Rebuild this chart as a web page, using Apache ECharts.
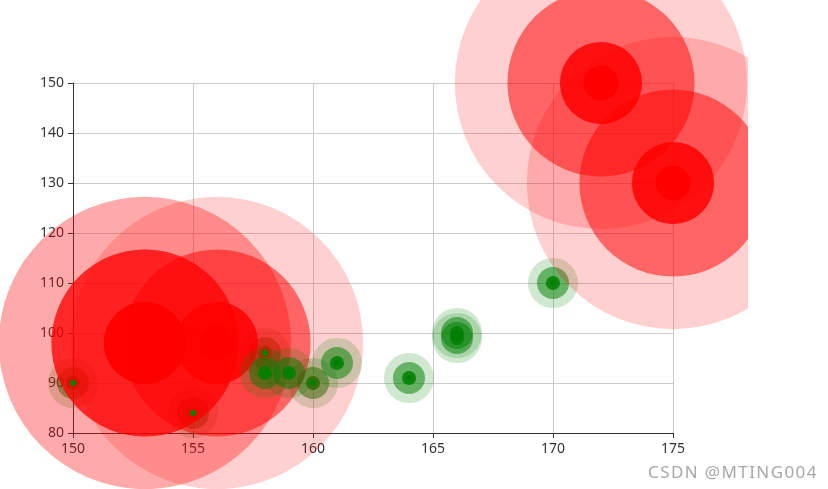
<!DOCTYPE html>
<html><head><meta charset="utf-8">
<script src="https://cdn.jsdelivr.net/npm/echarts@6/dist/echarts.min.js"></script>
<style>
html,body{margin:0;padding:0;background:#fff;width:828px;height:489px;overflow:hidden;position:relative}
#chart{position:absolute;left:0;top:0;width:748px;height:489px}
#wm{position:absolute;left:648px;top:460px;font:17px 'Noto Sans',sans-serif;color:#a8a8a8;letter-spacing:1.4px;white-space:nowrap}
</style></head><body>
<div id="chart"></div><div id="wm">CSDN @MTING004</div>
<script>
// Data (height cm, weight kg), in drawing order
const heights = [150, 155, 158, 160, 153, 153, 156, 158, 159, 161, 164, 166, 166, 170, 172, 175];
const weights = [90, 84, 96, 90, 98, 98, 98, 92, 92, 94, 91, 100, 99, 110, 150, 130];
// Axis ticks
const xMin = 150, xMax = 175, xStep = 5;
const yMin = 80, yMax = 150, yStep = 10;
const bmiLimit = 40;

// Style
const RED = '#ff0000', GREEN = '#008000';
const sizeHigh = 35, sizeLow = 6;
const rippleScale = 10;
const ripplePhases = [0.817, 0.483, 0.15];

const data = heights.map((h, i) => [h, weights[i]]);
function isHigh(i) {
  const h = heights[i], w = weights[i];
  return w * 10000 / (h * h) > bmiLimit;
}

const chart = echarts.init(document.getElementById('chart'), null, {renderer: 'canvas'});
const axisCommon = {
  type: 'value',
  axisLine: {show: true, lineStyle: {color: '#333'}},
  axisTick: {show: true, length: 5, lineStyle: {color: '#333'}},
  axisLabel: {color: '#333', fontSize: 14, margin: 9, fontFamily: 'Noto Sans, sans-serif'},
  splitLine: {show: true, lineStyle: {color: '#ccc'}}
};
chart.setOption({
  animation: false,
  grid: {left: 73, right: 75, top: 83, bottom: 56, containLabel: false},
  xAxis: Object.assign({}, axisCommon, {min: xMin, max: xMax, interval: xStep}),
  yAxis: Object.assign({}, axisCommon, {min: yMin, max: yMax, interval: yStep}),
  series: [{
    type: 'custom',
    clip: false,
    data: data,
    encode: {x: 0, y: 1},
    renderItem: function (params, api) {
      const i = params.dataIndex;
      const p = api.coord([api.value(0), api.value(1)]);
      const high = isHigh(i);
      const color = high ? RED : GREEN;
      const r = (high ? sizeHigh : sizeLow) / 2;
      const children = ripplePhases.map(t => ({
        type: 'circle',
        z2: 99,
        shape: {cx: p[0], cy: p[1], r: r * (1 + (rippleScale - 1) * t)},
        style: {fill: color, opacity: 1 - t},
        silent: true
      }));
      children.push({
        type: 'circle',
        z2: 100,
        shape: {cx: p[0], cy: p[1], r: r},
        style: {fill: color}
      });
      return {type: 'group', children: children};
    }
  }]
});
</script>
</body></html>
